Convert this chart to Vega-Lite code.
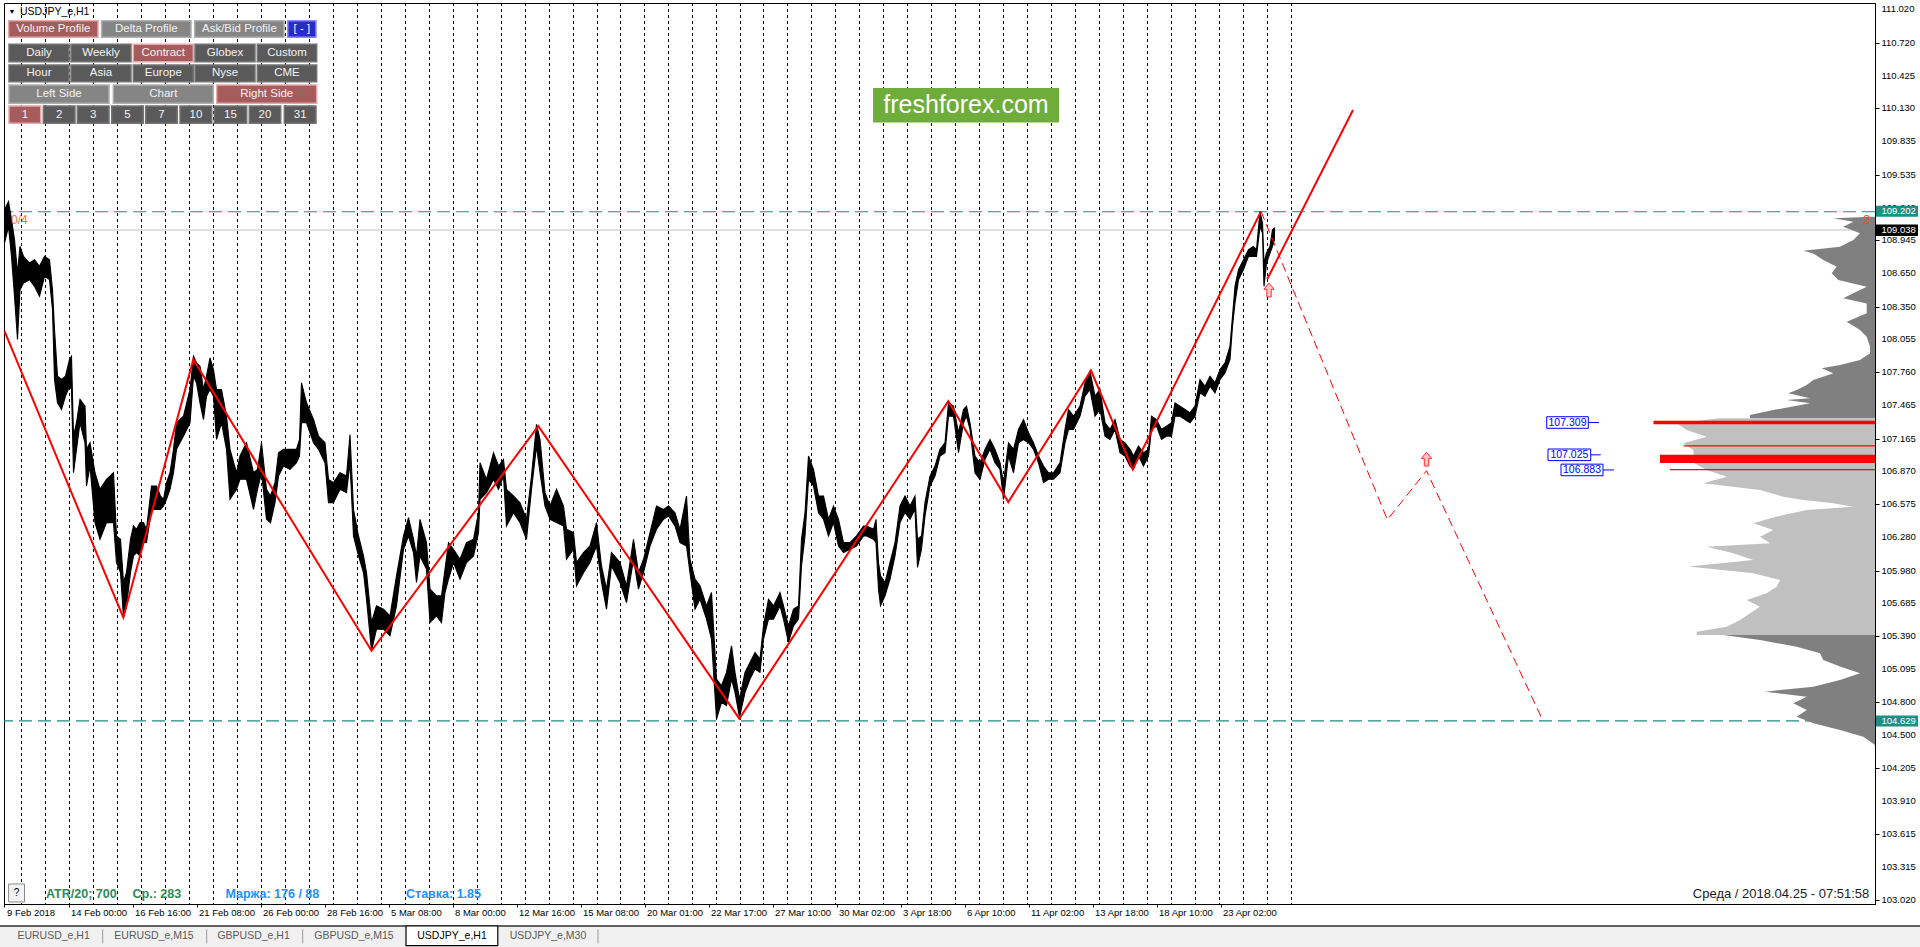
{
  "$schema": "https://vega.github.io/schema/vega-lite/v6.json",
  "width": 1871,
  "height": 901,
  "autosize": {"type": "none"},
  "padding": {"left": 4, "top": 3, "right": 45, "bottom": 43},
  "background": "#ffffff",
  "config": {
    "view": {"stroke": "#000000", "strokeWidth": 1},
    "font": "Liberation Sans",
    "axis": {"labelOverlap": false, "labelFlush": false, "labelBound": false}
  },
  "resolve": {"scale": {"color": "independent", "fill": "independent", "stroke": "independent"}},
  "datasets": {
    "sep": [
      {"i": 17}, {"i": 41}, {"i": 65}, {"i": 89}, {"i": 113}, {"i": 137}, {"i": 161}, {"i": 185}, {"i": 209}, {"i": 233},
      {"i": 257}, {"i": 281}, {"i": 305}, {"i": 329}, {"i": 353}, {"i": 377}, {"i": 401}, {"i": 425}, {"i": 449}, {"i": 473},
      {"i": 497}, {"i": 521}, {"i": 545}, {"i": 569}, {"i": 593}, {"i": 616}, {"i": 640}, {"i": 664}, {"i": 688}, {"i": 712},
      {"i": 736}, {"i": 759}, {"i": 783}, {"i": 807}, {"i": 831}, {"i": 855}, {"i": 879}, {"i": 903}, {"i": 927}, {"i": 951},
      {"i": 975}, {"i": 999}, {"i": 1023}, {"i": 1047}, {"i": 1071}, {"i": 1095}, {"i": 1119}, {"i": 1143}, {"i": 1167}, {"i": 1191},
      {"i": 1215}, {"i": 1239}, {"i": 1263}, {"i": 1287}
    ],
    "ylab": [
      {"p": 111.02}, {"p": 110.72}, {"p": 110.425}, {"p": 110.13}, {"p": 109.835}, {"p": 109.535}, {"p": 109.24},
      {"p": 108.945}, {"p": 108.65}, {"p": 108.35}, {"p": 108.055}, {"p": 107.76}, {"p": 107.465}, {"p": 107.165},
      {"p": 106.87}, {"p": 106.575}, {"p": 106.28}, {"p": 105.98}, {"p": 105.685}, {"p": 105.39}, {"p": 105.095},
      {"p": 104.8}, {"p": 104.5}, {"p": 104.205}, {"p": 103.91}, {"p": 103.615}, {"p": 103.315}, {"p": 103.02}
    ],
    "px": [
      {"i": 0, "h": 109.220, "l": 108.921}, {"i": 4, "h": 109.294, "l": 109.070}, {"i": 7, "h": 109.130, "l": 108.801},
      {"i": 10, "h": 108.951, "l": 108.443}, {"i": 13, "h": 108.652, "l": 108.054}, {"i": 15.5, "h": 108.891, "l": 108.502},
      {"i": 19, "h": 108.801, "l": 108.562}, {"i": 25, "h": 108.741, "l": 108.592}, {"i": 30, "h": 108.771, "l": 108.532},
      {"i": 35, "h": 108.712, "l": 108.443}, {"i": 40, "h": 108.801, "l": 108.622}, {"i": 45, "h": 108.771, "l": 108.592},
      {"i": 48, "h": 108.502, "l": 108.323}, {"i": 50, "h": 108.144, "l": 107.695}, {"i": 53, "h": 107.725, "l": 107.486},
      {"i": 57, "h": 107.695, "l": 107.426}, {"i": 61, "h": 107.725, "l": 107.546}, {"i": 65, "h": 107.875, "l": 107.635},
      {"i": 67, "h": 107.904, "l": 107.606}, {"i": 69, "h": 107.187, "l": 106.858}, {"i": 72, "h": 107.307, "l": 107.068},
      {"i": 75.5, "h": 107.516, "l": 107.307}, {"i": 80.5, "h": 107.456, "l": 107.127}, {"i": 82, "h": 107.068, "l": 106.739},
      {"i": 85.5, "h": 107.127, "l": 106.918}, {"i": 90.5, "h": 106.858, "l": 106.410}, {"i": 95.5, "h": 106.709, "l": 106.261},
      {"i": 102, "h": 106.798, "l": 106.410}, {"i": 109, "h": 106.858, "l": 106.410}, {"i": 112, "h": 106.290, "l": 106.051},
      {"i": 116, "h": 106.261, "l": 105.962}, {"i": 119, "h": 105.872, "l": 105.558}, {"i": 122, "h": 105.962, "l": 105.663},
      {"i": 126, "h": 106.261, "l": 105.962}, {"i": 129, "h": 106.380, "l": 106.111}, {"i": 132, "h": 106.350, "l": 106.141},
      {"i": 135.5, "h": 106.410, "l": 106.111}, {"i": 139, "h": 106.410, "l": 106.231}, {"i": 142, "h": 106.350, "l": 106.231},
      {"i": 147, "h": 106.739, "l": 106.529}, {"i": 152, "h": 106.739, "l": 106.529}, {"i": 156, "h": 106.649, "l": 106.529},
      {"i": 159, "h": 106.619, "l": 106.559}, {"i": 162, "h": 106.769, "l": 106.619}, {"i": 165.5, "h": 106.858, "l": 106.709},
      {"i": 169, "h": 107.068, "l": 106.858}, {"i": 172, "h": 107.307, "l": 107.068}, {"i": 179, "h": 107.366, "l": 107.187},
      {"i": 185.5, "h": 107.606, "l": 107.307}, {"i": 189, "h": 107.904, "l": 107.725}, {"i": 192, "h": 107.845, "l": 107.665},
      {"i": 195.5, "h": 107.815, "l": 107.486}, {"i": 199, "h": 107.606, "l": 107.336}, {"i": 202, "h": 107.725, "l": 107.546},
      {"i": 205.5, "h": 107.889, "l": 107.606}, {"i": 209, "h": 107.785, "l": 107.546}, {"i": 212, "h": 107.606, "l": 107.157},
      {"i": 217, "h": 107.606, "l": 107.307}, {"i": 222, "h": 107.366, "l": 107.068}, {"i": 225.5, "h": 107.068, "l": 106.619},
      {"i": 232, "h": 106.858, "l": 106.709}, {"i": 235.5, "h": 107.008, "l": 106.799}, {"i": 242, "h": 107.127, "l": 106.799},
      {"i": 249, "h": 106.858, "l": 106.529}, {"i": 253, "h": 106.888, "l": 106.709}, {"i": 257, "h": 107.127, "l": 106.858},
      {"i": 262, "h": 106.709, "l": 106.440}, {"i": 266, "h": 106.649, "l": 106.410}, {"i": 270.5, "h": 106.769, "l": 106.589},
      {"i": 274, "h": 107.038, "l": 106.828}, {"i": 279, "h": 107.068, "l": 106.918}, {"i": 285.5, "h": 107.068, "l": 106.888},
      {"i": 292, "h": 107.068, "l": 106.948}, {"i": 295, "h": 107.157, "l": 107.008}, {"i": 297, "h": 107.665, "l": 107.307},
      {"i": 302, "h": 107.486, "l": 107.307}, {"i": 309, "h": 107.336, "l": 107.127}, {"i": 314, "h": 107.187, "l": 107.068},
      {"i": 320.5, "h": 107.127, "l": 106.948}, {"i": 324, "h": 106.798, "l": 106.589}, {"i": 329, "h": 106.769, "l": 106.589},
      {"i": 335.5, "h": 106.858, "l": 106.709}, {"i": 342, "h": 106.828, "l": 106.679}, {"i": 345.5, "h": 107.202, "l": 106.948},
      {"i": 349, "h": 106.529, "l": 106.290}, {"i": 354, "h": 106.290, "l": 106.111}, {"i": 359, "h": 106.111, "l": 105.962},
      {"i": 362, "h": 105.962, "l": 105.723}, {"i": 367, "h": 105.513, "l": 105.259}, {"i": 372, "h": 105.663, "l": 105.453},
      {"i": 379, "h": 105.633, "l": 105.453}, {"i": 385.5, "h": 105.573, "l": 105.394}, {"i": 392, "h": 105.932, "l": 105.663},
      {"i": 399, "h": 106.290, "l": 106.171}, {"i": 404, "h": 106.455, "l": 106.290}, {"i": 409, "h": 106.261, "l": 106.141},
      {"i": 412, "h": 106.111, "l": 105.872}, {"i": 415.5, "h": 106.440, "l": 106.111}, {"i": 422, "h": 106.231, "l": 105.992},
      {"i": 425.5, "h": 105.812, "l": 105.513}, {"i": 432, "h": 105.752, "l": 105.573}, {"i": 437, "h": 105.752, "l": 105.513},
      {"i": 440.5, "h": 105.991, "l": 105.782}, {"i": 444, "h": 106.230, "l": 105.902}, {"i": 449, "h": 106.171, "l": 106.051},
      {"i": 455.5, "h": 106.081, "l": 105.902}, {"i": 462, "h": 106.230, "l": 106.051}, {"i": 469, "h": 106.260, "l": 106.111},
      {"i": 474, "h": 106.499, "l": 106.320}, {"i": 475.5, "h": 106.948, "l": 106.619}, {"i": 482, "h": 106.798, "l": 106.679},
      {"i": 489, "h": 107.037, "l": 106.798}, {"i": 494, "h": 106.918, "l": 106.709}, {"i": 499, "h": 106.978, "l": 106.828},
      {"i": 502, "h": 106.709, "l": 106.380}, {"i": 509, "h": 106.649, "l": 106.499}, {"i": 515.5, "h": 106.589, "l": 106.410},
      {"i": 522, "h": 106.440, "l": 106.260}, {"i": 527, "h": 106.828, "l": 106.709}, {"i": 532, "h": 107.292, "l": 107.097},
      {"i": 535.5, "h": 107.157, "l": 106.858}, {"i": 540.5, "h": 106.679, "l": 106.559}, {"i": 545.5, "h": 106.559, "l": 106.440},
      {"i": 552, "h": 106.709, "l": 106.410}, {"i": 559, "h": 106.559, "l": 106.380}, {"i": 562, "h": 106.350, "l": 106.081},
      {"i": 569, "h": 106.320, "l": 106.171}, {"i": 572, "h": 106.051, "l": 105.842}, {"i": 579, "h": 106.141, "l": 105.961},
      {"i": 585.5, "h": 106.200, "l": 106.051}, {"i": 592, "h": 106.410, "l": 106.200}, {"i": 597, "h": 106.021, "l": 105.872},
      {"i": 602, "h": 105.812, "l": 105.633}, {"i": 607, "h": 106.141, "l": 106.021}, {"i": 615.5, "h": 106.051, "l": 105.872},
      {"i": 622, "h": 105.842, "l": 105.692}, {"i": 629, "h": 106.260, "l": 106.081}, {"i": 634, "h": 105.961, "l": 105.812},
      {"i": 639, "h": 106.081, "l": 105.961}, {"i": 645.5, "h": 106.320, "l": 106.200}, {"i": 652, "h": 106.559, "l": 106.350},
      {"i": 659, "h": 106.529, "l": 106.440}, {"i": 664, "h": 106.559, "l": 106.470}, {"i": 670.5, "h": 106.499, "l": 106.380},
      {"i": 675.5, "h": 106.350, "l": 106.230}, {"i": 682, "h": 106.649, "l": 106.200}, {"i": 685.5, "h": 106.081, "l": 105.961},
      {"i": 690.5, "h": 105.902, "l": 105.633}, {"i": 695.5, "h": 105.842, "l": 105.722}, {"i": 702, "h": 105.662, "l": 105.543},
      {"i": 707, "h": 105.782, "l": 105.364}, {"i": 712, "h": 105.005, "l": 104.646}, {"i": 717, "h": 104.945, "l": 104.796},
      {"i": 722, "h": 105.065, "l": 104.766}, {"i": 727, "h": 105.304, "l": 105.005}, {"i": 730.5, "h": 105.065, "l": 104.885},
      {"i": 735, "h": 104.826, "l": 104.661}, {"i": 740.5, "h": 105.065, "l": 104.885}, {"i": 745.5, "h": 105.154, "l": 105.005},
      {"i": 750.5, "h": 105.244, "l": 105.095}, {"i": 755.5, "h": 105.184, "l": 105.065}, {"i": 759, "h": 105.483, "l": 105.364},
      {"i": 764, "h": 105.722, "l": 105.543}, {"i": 769, "h": 105.662, "l": 105.543}, {"i": 775.5, "h": 105.782, "l": 105.662},
      {"i": 779, "h": 105.662, "l": 105.543}, {"i": 784, "h": 105.483, "l": 105.334}, {"i": 789, "h": 105.633, "l": 105.483},
      {"i": 794, "h": 105.662, "l": 105.543}, {"i": 797, "h": 106.260, "l": 106.021}, {"i": 800.5, "h": 106.499, "l": 106.290},
      {"i": 804, "h": 107.008, "l": 106.798}, {"i": 809, "h": 106.888, "l": 106.739}, {"i": 814, "h": 106.649, "l": 106.499},
      {"i": 819, "h": 106.649, "l": 106.440}, {"i": 824, "h": 106.440, "l": 106.290}, {"i": 829, "h": 106.559, "l": 106.410},
      {"i": 834, "h": 106.440, "l": 106.200}, {"i": 839, "h": 106.230, "l": 106.141}, {"i": 845.5, "h": 106.230, "l": 106.171},
      {"i": 852, "h": 106.290, "l": 106.200}, {"i": 859, "h": 106.380, "l": 106.290}, {"i": 862, "h": 106.380, "l": 106.290},
      {"i": 869, "h": 106.350, "l": 106.261}, {"i": 871.5, "h": 106.440, "l": 106.231}, {"i": 874, "h": 106.051, "l": 105.812},
      {"i": 876, "h": 105.932, "l": 105.663}, {"i": 880.5, "h": 105.872, "l": 105.752}, {"i": 885.5, "h": 106.051, "l": 105.902},
      {"i": 890.5, "h": 106.231, "l": 106.111}, {"i": 895.5, "h": 106.559, "l": 106.410}, {"i": 900.5, "h": 106.649, "l": 106.500},
      {"i": 905.5, "h": 106.559, "l": 106.440}, {"i": 910.5, "h": 106.649, "l": 106.529}, {"i": 913, "h": 106.261, "l": 106.007},
      {"i": 917, "h": 106.290, "l": 106.171}, {"i": 920.5, "h": 106.589, "l": 106.470}, {"i": 925.5, "h": 106.828, "l": 106.739},
      {"i": 930.5, "h": 106.918, "l": 106.828}, {"i": 935.5, "h": 107.068, "l": 107.008}, {"i": 940.5, "h": 107.127, "l": 107.038},
      {"i": 944, "h": 107.486, "l": 107.366}, {"i": 949, "h": 107.456, "l": 107.366}, {"i": 954, "h": 107.217, "l": 107.038},
      {"i": 959, "h": 107.426, "l": 107.307}, {"i": 962, "h": 107.456, "l": 107.366}, {"i": 965.5, "h": 107.307, "l": 107.247},
      {"i": 970.5, "h": 107.008, "l": 106.858}, {"i": 975.5, "h": 106.948, "l": 106.798}, {"i": 980.5, "h": 107.068, "l": 106.978},
      {"i": 985.5, "h": 107.157, "l": 107.068}, {"i": 990.5, "h": 107.068, "l": 106.948}, {"i": 995.5, "h": 106.948, "l": 106.888},
      {"i": 999, "h": 106.769, "l": 106.619}, {"i": 1004, "h": 107.127, "l": 107.008}, {"i": 1009, "h": 107.068, "l": 106.858},
      {"i": 1014, "h": 107.247, "l": 107.127}, {"i": 1019, "h": 107.336, "l": 107.157}, {"i": 1024, "h": 107.217, "l": 107.127},
      {"i": 1029, "h": 107.127, "l": 107.068}, {"i": 1034, "h": 107.008, "l": 106.948}, {"i": 1039, "h": 106.918, "l": 106.769},
      {"i": 1044, "h": 106.858, "l": 106.799}, {"i": 1049, "h": 106.858, "l": 106.799}, {"i": 1055.5, "h": 106.948, "l": 106.858},
      {"i": 1060.5, "h": 107.247, "l": 107.127}, {"i": 1064, "h": 107.426, "l": 107.247}, {"i": 1069, "h": 107.366, "l": 107.247},
      {"i": 1075.5, "h": 107.456, "l": 107.366}, {"i": 1080.5, "h": 107.665, "l": 107.546}, {"i": 1085.5, "h": 107.770, "l": 107.606},
      {"i": 1090.5, "h": 107.546, "l": 107.366}, {"i": 1095.5, "h": 107.606, "l": 107.426}, {"i": 1100.5, "h": 107.307, "l": 107.187},
      {"i": 1105.5, "h": 107.247, "l": 107.157}, {"i": 1110.5, "h": 107.336, "l": 107.247}, {"i": 1115.5, "h": 107.157, "l": 107.038},
      {"i": 1120.5, "h": 107.127, "l": 107.008}, {"i": 1125.5, "h": 107.068, "l": 106.918}, {"i": 1129, "h": 107.008, "l": 106.888},
      {"i": 1134, "h": 107.097, "l": 107.008}, {"i": 1139, "h": 107.038, "l": 106.918}, {"i": 1144, "h": 107.068, "l": 107.008},
      {"i": 1147, "h": 107.366, "l": 107.247}, {"i": 1152, "h": 107.336, "l": 107.277}, {"i": 1157, "h": 107.247, "l": 107.157},
      {"i": 1162, "h": 107.277, "l": 107.187}, {"i": 1167, "h": 107.307, "l": 107.187}, {"i": 1170.5, "h": 107.486, "l": 107.366},
      {"i": 1175.5, "h": 107.456, "l": 107.366}, {"i": 1180.5, "h": 107.426, "l": 107.336}, {"i": 1185.5, "h": 107.396, "l": 107.307},
      {"i": 1190.5, "h": 107.456, "l": 107.366}, {"i": 1195.5, "h": 107.695, "l": 107.576}, {"i": 1200.5, "h": 107.635, "l": 107.546},
      {"i": 1205.5, "h": 107.725, "l": 107.635}, {"i": 1210.5, "h": 107.665, "l": 107.576}, {"i": 1215.5, "h": 107.785, "l": 107.695},
      {"i": 1220.5, "h": 107.845, "l": 107.755}, {"i": 1225.5, "h": 107.994, "l": 107.875}, {"i": 1228, "h": 108.263, "l": 108.174},
      {"i": 1230.5, "h": 108.532, "l": 108.383}, {"i": 1234, "h": 108.682, "l": 108.592}, {"i": 1239, "h": 108.771, "l": 108.682},
      {"i": 1244, "h": 108.861, "l": 108.801}, {"i": 1249, "h": 108.891, "l": 108.801}, {"i": 1252, "h": 108.861, "l": 108.801},
      {"i": 1255.5, "h": 109.205, "l": 109.070}, {"i": 1258, "h": 109.100, "l": 109.010}, {"i": 1259.5, "h": 108.741, "l": 108.532},
      {"i": 1262, "h": 108.831, "l": 108.741}, {"i": 1265.5, "h": 108.891, "l": 108.831}, {"i": 1268, "h": 109.040, "l": 108.891},
      {"i": 1270, "h": 109.055, "l": 108.951}
    ],
    "zz": [
      {"i": 0, "p": 108.129}, {"i": 118.8, "p": 105.558}, {"i": 188.8, "p": 107.875}, {"i": 367, "p": 105.259},
      {"i": 533.8, "p": 107.277}, {"i": 734.8, "p": 104.65}, {"i": 943.8, "p": 107.501}, {"i": 1003.8, "p": 106.595},
      {"i": 1086.5, "p": 107.776}, {"i": 1128.2, "p": 106.888}, {"i": 1256.5, "p": 109.205}
    ],
    "vp": [
      {"p": 109.158, "xl": 1867.2, "z": "d1"}, {"p": 109.143, "xl": 1828.8, "z": "d1"}, {"p": 109.113, "xl": 1848.8, "z": "d1"},
      {"p": 109.068, "xl": 1838.8, "z": "d1"}, {"p": 109.008, "xl": 1855.5, "z": "d1"}, {"p": 108.948, "xl": 1848.8, "z": "d1"},
      {"p": 108.888, "xl": 1835.5, "z": "d1"}, {"p": 108.852, "xl": 1798.8, "z": "d1"}, {"p": 108.828, "xl": 1808.8, "z": "d1"},
      {"p": 108.769, "xl": 1818.8, "z": "d1"}, {"p": 108.709, "xl": 1832.2, "z": "d1"}, {"p": 108.649, "xl": 1827.2, "z": "d1"},
      {"p": 108.589, "xl": 1833.8, "z": "d1"}, {"p": 108.529, "xl": 1862.2, "z": "d1"}, {"p": 108.469, "xl": 1848.8, "z": "d1"},
      {"p": 108.424, "xl": 1838.8, "z": "d1"}, {"p": 108.379, "xl": 1862.2, "z": "d1"}, {"p": 108.290, "xl": 1862.2, "z": "d1"},
      {"p": 108.215, "xl": 1842.2, "z": "d1"}, {"p": 108.140, "xl": 1855.5, "z": "d1"}, {"p": 108.080, "xl": 1862.2, "z": "d1"},
      {"p": 107.990, "xl": 1865.5, "z": "d1"}, {"p": 107.930, "xl": 1865.5, "z": "d1"}, {"p": 107.870, "xl": 1855.5, "z": "d1"},
      {"p": 107.826, "xl": 1835.5, "z": "d1"}, {"p": 107.796, "xl": 1817.2, "z": "d1"}, {"p": 107.751, "xl": 1828.8, "z": "d1"},
      {"p": 107.691, "xl": 1808.8, "z": "d1"}, {"p": 107.646, "xl": 1802.2, "z": "d1"}, {"p": 107.601, "xl": 1792.2, "z": "d1"},
      {"p": 107.571, "xl": 1783.8, "z": "d1"}, {"p": 107.526, "xl": 1805.5, "z": "d1"}, {"p": 107.511, "xl": 1782.2, "z": "d1"},
      {"p": 107.481, "xl": 1805.5, "z": "d1"}, {"p": 107.421, "xl": 1768.8, "z": "d1"}, {"p": 107.377, "xl": 1745.5, "z": "d1"},
      {"p": 107.347, "xl": 1745.5, "z": "d1"},
      {"p": 107.347, "xl": 1715.5, "z": "l"}, {"p": 107.302, "xl": 1672.2, "z": "l"}, {"p": 107.242, "xl": 1682.2, "z": "l"},
      {"p": 107.182, "xl": 1702.2, "z": "l"}, {"p": 107.122, "xl": 1678.8, "z": "l"}, {"p": 107.062, "xl": 1688.8, "z": "l"},
      {"p": 106.943, "xl": 1690.0, "z": "l"}, {"p": 106.883, "xl": 1702.2, "z": "l"}, {"p": 106.823, "xl": 1722.2, "z": "l"},
      {"p": 106.763, "xl": 1698.8, "z": "l"}, {"p": 106.703, "xl": 1755.5, "z": "l"}, {"p": 106.643, "xl": 1778.8, "z": "l"},
      {"p": 106.613, "xl": 1798.8, "z": "l"}, {"p": 106.583, "xl": 1828.8, "z": "l"}, {"p": 106.553, "xl": 1848.8, "z": "l"},
      {"p": 106.523, "xl": 1802.2, "z": "l"}, {"p": 106.464, "xl": 1772.2, "z": "l"}, {"p": 106.404, "xl": 1748.8, "z": "l"},
      {"p": 106.344, "xl": 1768.8, "z": "l"}, {"p": 106.284, "xl": 1755.5, "z": "l"}, {"p": 106.224, "xl": 1765.5, "z": "l"},
      {"p": 106.194, "xl": 1702.2, "z": "l"}, {"p": 106.134, "xl": 1728.8, "z": "l"}, {"p": 106.074, "xl": 1748.8, "z": "l"},
      {"p": 106.015, "xl": 1683.8, "z": "l"}, {"p": 105.955, "xl": 1748.8, "z": "l"}, {"p": 105.895, "xl": 1775.5, "z": "l"},
      {"p": 105.835, "xl": 1772.2, "z": "l"}, {"p": 105.775, "xl": 1762.2, "z": "l"}, {"p": 105.715, "xl": 1742.2, "z": "l"},
      {"p": 105.655, "xl": 1755.5, "z": "l"}, {"p": 105.596, "xl": 1745.5, "z": "l"}, {"p": 105.536, "xl": 1735.5, "z": "l"},
      {"p": 105.476, "xl": 1722.2, "z": "l"}, {"p": 105.431, "xl": 1692.2, "z": "l"}, {"p": 105.401, "xl": 1692.2, "z": "l"},
      {"p": 105.401, "xl": 1718.8, "z": "d2"}, {"p": 105.356, "xl": 1755.5, "z": "d2"}, {"p": 105.296, "xl": 1792.2, "z": "d2"},
      {"p": 105.236, "xl": 1815.5, "z": "d2"}, {"p": 105.176, "xl": 1818.8, "z": "d2"}, {"p": 105.117, "xl": 1835.5, "z": "d2"},
      {"p": 105.057, "xl": 1855.5, "z": "d2"}, {"p": 104.997, "xl": 1835.5, "z": "d2"}, {"p": 104.937, "xl": 1808.8, "z": "d2"},
      {"p": 104.892, "xl": 1760.5, "z": "d2"}, {"p": 104.847, "xl": 1802.2, "z": "d2"}, {"p": 104.787, "xl": 1788.8, "z": "d2"},
      {"p": 104.727, "xl": 1802.2, "z": "d2"}, {"p": 104.667, "xl": 1792.2, "z": "d2"}, {"p": 104.608, "xl": 1808.8, "z": "d2"},
      {"p": 104.548, "xl": 1835.5, "z": "d2"}, {"p": 104.488, "xl": 1858.8, "z": "d2"}, {"p": 104.413, "xl": 1870.5, "z": "d2"}
    ],
    "btn": [
      {"t": "Volume Profile", "x0": 4.1, "x1": 93.5, "xm": 48.8, "pt": 110.918, "pb": 110.769, "pm": 110.843, "s": "a"},
      {"t": "Delta Profile", "x0": 97.1, "x1": 186.5, "xm": 141.8, "pt": 110.918, "pb": 110.769, "pm": 110.843, "s": "g"},
      {"t": "Ask/Bid Profile", "x0": 190.2, "x1": 279.5, "xm": 234.9, "pt": 110.918, "pb": 110.769, "pm": 110.843, "s": "g"},
      {"t": "[ - ]", "x0": 283.3, "x1": 311.5, "xm": 297.4, "pt": 110.918, "pb": 110.769, "pm": 110.843, "s": "b"},
      {"t": "Daily", "x0": 4.5, "x1": 64.5, "xm": 34.5, "pt": 110.706, "pb": 110.549, "pm": 110.627, "s": "d"},
      {"t": "Weekly", "x0": 66.5, "x1": 126.5, "xm": 96.5, "pt": 110.706, "pb": 110.549, "pm": 110.627, "s": "d"},
      {"t": "Contract", "x0": 128.8, "x1": 188.8, "xm": 158.8, "pt": 110.706, "pb": 110.549, "pm": 110.627, "s": "a"},
      {"t": "Globex", "x0": 190.5, "x1": 250.5, "xm": 220.5, "pt": 110.706, "pb": 110.549, "pm": 110.627, "s": "d"},
      {"t": "Custom", "x0": 252.8, "x1": 312.2, "xm": 282.5, "pt": 110.706, "pb": 110.549, "pm": 110.627, "s": "d"},
      {"t": "Hour", "x0": 4.5, "x1": 64.5, "xm": 34.5, "pt": 110.520, "pb": 110.370, "pm": 110.445, "s": "d"},
      {"t": "Asia", "x0": 66.5, "x1": 126.5, "xm": 96.5, "pt": 110.520, "pb": 110.370, "pm": 110.445, "s": "d"},
      {"t": "Europe", "x0": 128.8, "x1": 188.8, "xm": 158.8, "pt": 110.520, "pb": 110.370, "pm": 110.445, "s": "d"},
      {"t": "Nyse", "x0": 190.5, "x1": 250.5, "xm": 220.5, "pt": 110.520, "pb": 110.370, "pm": 110.445, "s": "d"},
      {"t": "CME", "x0": 252.8, "x1": 312.2, "xm": 282.5, "pt": 110.520, "pb": 110.370, "pm": 110.445, "s": "d"},
      {"t": "Left Side", "x0": 4.5, "x1": 104.5, "xm": 54.5, "pt": 110.340, "pb": 110.176, "pm": 110.258, "s": "g"},
      {"t": "Chart", "x0": 108.8, "x1": 208.8, "xm": 158.8, "pt": 110.340, "pb": 110.176, "pm": 110.258, "s": "g"},
      {"t": "Right Side", "x0": 212.2, "x1": 312.2, "xm": 262.2, "pt": 110.340, "pb": 110.176, "pm": 110.258, "s": "a"},
      {"t": "1", "x0": 4.5, "x1": 36.2, "xm": 20.4, "pt": 110.152, "pb": 109.996, "pm": 110.074, "s": "a"},
      {"t": "2", "x0": 38.8, "x1": 70.5, "xm": 54.7, "pt": 110.152, "pb": 109.996, "pm": 110.074, "s": "d"},
      {"t": "3", "x0": 72.8, "x1": 104.5, "xm": 88.7, "pt": 110.152, "pb": 109.996, "pm": 110.074, "s": "d"},
      {"t": "5", "x0": 107.2, "x1": 138.8, "xm": 123.0, "pt": 110.152, "pb": 109.996, "pm": 110.074, "s": "d"},
      {"t": "7", "x0": 141.2, "x1": 172.8, "xm": 157.0, "pt": 110.152, "pb": 109.996, "pm": 110.074, "s": "d"},
      {"t": "10", "x0": 175.5, "x1": 207.2, "xm": 191.4, "pt": 110.152, "pb": 109.996, "pm": 110.074, "s": "d"},
      {"t": "15", "x0": 209.8, "x1": 242.2, "xm": 226.0, "pt": 110.152, "pb": 109.996, "pm": 110.074, "s": "d"},
      {"t": "20", "x0": 244.8, "x1": 276.2, "xm": 260.5, "pt": 110.152, "pb": 109.996, "pm": 110.074, "s": "d"},
      {"t": "31", "x0": 279.8, "x1": 311.5, "xm": 295.7, "pt": 110.152, "pb": 109.996, "pm": 110.074, "s": "d"}
    ],
    "tabs": [
      {"t": "EURUSD_e,H1", "i": 49.1, "k": "n"}, {"t": "EURUSD_e,M15", "i": 149.5, "k": "n"},
      {"t": "GBPUSD_e,H1", "i": 249.1, "k": "n"}, {"t": "GBPUSD_e,M15", "i": 349.5, "k": "n"},
      {"t": "USDJPY_e,H1", "i": 447.5, "k": "a"}, {"t": "USDJPY_e,M30", "i": 543.5, "k": "n"}
    ]
  },
  "layer": [
    {
      "data": {"name": "sep"},
      "mark": {"type": "rule", "color": "#000000", "strokeDash": [3, 3], "strokeWidth": 1},
      "encoding": {
        "x": {
          "field": "i", "type": "quantitative",
          "scale": {"domain": [-0.5, 1870.5], "nice": false, "zero": false},
          "axis": {
            "title": null, "grid": false,
            "values": [0, 64, 128, 192, 256, 320, 384, 448, 512, 576, 640, 704, 768, 832, 896, 960, 1024, 1088, 1152, 1216],
            "labelExpr": "['9 Feb 2018','14 Feb 00:00','16 Feb 16:00','21 Feb 08:00','26 Feb 00:00','28 Feb 16:00','5 Mar 08:00','8 Mar 00:00','12 Mar 16:00','15 Mar 08:00','20 Mar 01:00','22 Mar 17:00','27 Mar 10:00','30 Mar 02:00','3 Apr 18:00','6 Apr 10:00','11 Apr 02:00','13 Apr 18:00','18 Apr 10:00','23 Apr 02:00'][round(datum.value / 64)]",
            "domainColor": "#000000", "tickColor": "#000000", "tickSize": 3,
            "labelAlign": "left", "labelBaseline": "top", "labelPadding": 0, "labelOffset": 2,
            "labelFont": "Liberation Sans", "labelFontSize": 9.5, "labelColor": "#000000",
            "labelOverlap": false, "labelFlush": false, "labelBound": false
          }
        }
      }
    },
    {
      "data": {"values": [{"p": 109.202}, {"p": 104.629}]},
      "mark": {"type": "rule", "color": "#1f8a80", "strokeDash": [13, 6], "strokeWidth": 1.2},
      "encoding": {"y": {"field": "p", "type": "quantitative"}}
    },
    {
      "data": {"values": [{"p": 109.038}]},
      "mark": {"type": "rule", "color": "#c0c0c0", "strokeWidth": 1},
      "encoding": {"y": {"field": "p", "type": "quantitative"}}
    },
    {
      "data": {"name": "vp"},
      "mark": {"type": "area", "orient": "horizontal", "interpolate": "linear"},
      "encoding": {
        "y": {"field": "p", "type": "quantitative"},
        "x": {"field": "xl", "type": "quantitative", "stack": null},
        "x2": {"datum": 1870.5},
        "color": {"field": "z", "type": "nominal", "scale": {"domain": ["d1", "l", "d2"], "range": ["#808080", "#c0c0c0", "#808080"]}, "legend": null}
      }
    },
    {
      "data": {"values": [
        {"pt": 107.325, "pb": 107.293, "xl": 1649.0},
        {"pt": 107.104, "pb": 107.094, "xl": 1679.0},
        {"pt": 107.020, "pb": 106.945, "xl": 1655.5},
        {"pt": 106.891, "pb": 106.881, "xl": 1665.5}
      ]},
      "mark": {"type": "rect", "color": "#ff0000"},
      "encoding": {
        "x": {"field": "xl", "type": "quantitative"},
        "x2": {"datum": 1870.5},
        "y": {"field": "pt", "type": "quantitative"},
        "y2": {"field": "pb"}
      }
    },
    {
      "data": {"name": "px"},
      "mark": {"type": "area", "orient": "vertical", "color": "#000000", "stroke": "#000000", "strokeWidth": 1.1},
      "encoding": {
        "x": {"field": "i", "type": "quantitative"},
        "y": {
          "field": "l", "type": "quantitative",
          "scale": {"domain": [102.985, 111.0766], "nice": false, "zero": false},
          "axis": {
            "title": null, "orient": "right", "grid": false, "labels": false,
            "values": [111.02, 110.72, 110.425, 110.13, 109.835, 109.535, 109.24, 108.945, 108.65, 108.35, 108.055, 107.76, 107.465, 107.165, 106.87, 106.575, 106.28, 105.98, 105.685, 105.39, 105.095, 104.8, 104.5, 104.205, 103.91, 103.615, 103.315, 103.02],
            "domainColor": "#000000", "tickColor": "#000000", "tickSize": 4
          }
        },
        "y2": {"field": "h"}
      }
    },
    {
      "data": {"name": "ylab"},
      "mark": {"type": "text", "color": "#000000", "font": "Liberation Sans", "fontSize": 9.5, "align": "left", "baseline": "middle"},
      "encoding": {
        "x": {"datum": 1877},
        "y": {"field": "p", "type": "quantitative"},
        "text": {"field": "p", "type": "quantitative", "format": ".3f"}
      }
    },
    {
      "data": {"name": "zz"},
      "mark": {"type": "line", "color": "#ff0000", "strokeWidth": 2},
      "encoding": {"x": {"field": "i", "type": "quantitative"}, "y": {"field": "p", "type": "quantitative"}}
    },
    {
      "data": {"values": [{"i": 1262.8, "p": 108.598}, {"i": 1348.5, "p": 110.115}]},
      "mark": {"type": "line", "color": "#ff0000", "strokeWidth": 2},
      "encoding": {"x": {"field": "i", "type": "quantitative"}, "y": {"field": "p", "type": "quantitative"}}
    },
    {
      "data": {"values": [{"i": 1256.5, "p": 109.205}, {"i": 1382.9, "p": 106.436}, {"i": 1422, "p": 106.876}, {"i": 1538.5, "p": 104.629}]},
      "mark": {"type": "line", "color": "#ff0000", "strokeWidth": 1, "strokeDash": [9, 5]},
      "encoding": {"x": {"field": "i", "type": "quantitative"}, "y": {"field": "p", "type": "quantitative"}}
    },
    {
      "data": {"values": [{"i": 1264.5, "p": 108.499}, {"i": 1422, "p": 106.98}]},
      "mark": {"type": "point", "shape": "M0,-1L0.75,-0.1L0.32,-0.1L0.32,1L-0.32,1L-0.32,-0.1L-0.75,-0.1Z", "filled": true, "fill": "#ffc4c4", "stroke": "#ff3030", "strokeWidth": 1, "size": 190, "opacity": 1},
      "encoding": {"x": {"field": "i", "type": "quantitative"}, "y": {"field": "p", "type": "quantitative"}}
    },
    {
      "data": {"values": [
        {"t": "107.309", "p": 107.309, "pt": 107.361, "pb": 107.257, "x0": 1542.2, "x1": 1583.8, "xm": 1563.0, "lx": 1594.5},
        {"t": "107.025", "p": 107.019, "pt": 107.071, "pb": 106.967, "x0": 1543.5, "x1": 1586.2, "xm": 1564.9, "lx": 1596.2},
        {"t": "106.883", "p": 106.883, "pt": 106.935, "pb": 106.831, "x0": 1556.5, "x1": 1598.5, "xm": 1577.5, "lx": 1609.5}
      ]},
      "layer": [
        {
          "mark": {"type": "rect", "fill": "#ffffff", "stroke": "#0000ff", "strokeWidth": 1},
          "encoding": {"x": {"field": "x0", "type": "quantitative"}, "x2": {"field": "x1"}, "y": {"field": "pt", "type": "quantitative"}, "y2": {"field": "pb"}}
        },
        {
          "mark": {"type": "rule", "color": "#0000ff", "strokeWidth": 1},
          "encoding": {"x": {"field": "x1", "type": "quantitative"}, "x2": {"field": "lx"}, "y": {"field": "p", "type": "quantitative"}}
        },
        {
          "mark": {"type": "text", "color": "#0000ff", "font": "Liberation Sans", "fontSize": 10.5, "align": "center", "baseline": "middle"},
          "encoding": {"x": {"field": "xm", "type": "quantitative"}, "y": {"field": "p", "type": "quantitative"}, "text": {"field": "t"}}
        }
      ]
    },
    {
      "data": {"name": "btn"},
      "layer": [
        {
          "mark": {"type": "rect", "strokeWidth": 1.5},
          "encoding": {
            "x": {"field": "x0", "type": "quantitative"}, "x2": {"field": "x1"},
            "y": {"field": "pt", "type": "quantitative"}, "y2": {"field": "pb"},
            "fill": {"field": "s", "type": "nominal", "scale": {"domain": ["a", "g", "d", "b"], "range": ["#a65c5c", "#858585", "#5a5a5a", "#2a2ac4"]}, "legend": null},
            "stroke": {"field": "s", "type": "nominal", "scale": {"domain": ["a", "g", "d", "b"], "range": ["#e4a8a8", "#b0b0b0", "#747474", "#8a8aff"]}, "legend": null}
          }
        },
        {
          "mark": {"type": "text", "color": "#f2f2f2", "font": "Liberation Sans", "fontSize": 11.5, "align": "center", "baseline": "middle"},
          "encoding": {"x": {"field": "xm", "type": "quantitative"}, "y": {"field": "pm", "type": "quantitative"}, "text": {"field": "t"}}
        }
      ]
    },
    {
      "data": {"values": [{"t": "▼", "i": 7.5, "p": 110.994}]},
      "mark": {"type": "text", "color": "#000000", "fontSize": 7, "align": "center", "baseline": "middle"},
      "encoding": {"x": {"field": "i", "type": "quantitative"}, "y": {"field": "p", "type": "quantitative"}, "text": {"field": "t"}}
    },
    {
      "data": {"values": [{"t": "USDJPY_e,H1", "i": 15.5, "p": 110.994}]},
      "mark": {"type": "text", "color": "#000000", "font": "Liberation Sans", "fontSize": 10.5, "align": "left", "baseline": "middle"},
      "encoding": {"x": {"field": "i", "type": "quantitative"}, "y": {"field": "p", "type": "quantitative"}, "text": {"field": "t"}}
    },
    {
      "data": {"values": [{"t": "freshforex.com", "x0": 868.5, "x1": 1054.5, "xm": 961.5, "pt": 110.313, "pb": 110.003, "pm": 110.158}]},
      "layer": [
        {
          "mark": {"type": "rect", "color": "#6fad3a"},
          "encoding": {"x": {"field": "x0", "type": "quantitative"}, "x2": {"field": "x1"}, "y": {"field": "pt", "type": "quantitative"}, "y2": {"field": "pb"}}
        },
        {
          "mark": {"type": "text", "color": "#ffffff", "font": "Liberation Sans", "fontSize": 25, "align": "center", "baseline": "middle"},
          "encoding": {"x": {"field": "xm", "type": "quantitative"}, "y": {"field": "pm", "type": "quantitative"}, "text": {"field": "t"}}
        }
      ]
    },
    {
      "data": {"values": [
        {"t": "109.202", "pt": 109.256, "pb": 109.158, "p": 109.207, "k": "teal"},
        {"t": "109.038", "pt": 109.087, "pb": 108.984, "p": 109.036, "k": "black"},
        {"t": "104.629", "pt": 104.678, "pb": 104.579, "p": 104.629, "k": "teal"}
      ]},
      "layer": [
        {
          "mark": {"type": "rect"},
          "encoding": {
            "x": {"datum": 1871.5}, "x2": {"datum": 1913.5},
            "y": {"field": "pt", "type": "quantitative"}, "y2": {"field": "pb"},
            "color": {"field": "k", "type": "nominal", "scale": {"domain": ["teal", "black"], "range": ["#1f8f86", "#000000"]}, "legend": null}
          }
        },
        {
          "mark": {"type": "text", "color": "#ffffff", "font": "Liberation Sans", "fontSize": 9.5, "align": "left", "baseline": "middle"},
          "encoding": {"x": {"datum": 1877}, "y": {"field": "p", "type": "quantitative"}, "text": {"field": "t"}}
        }
      ]
    },
    {
      "data": {"values": [{"t": "0/4", "i": 6.5, "p": 109.125}]},
      "mark": {"type": "text", "color": "#ff7040", "font": "Liberation Sans", "fontSize": 12, "align": "left", "baseline": "middle"},
      "encoding": {"x": {"field": "i", "type": "quantitative"}, "y": {"field": "p", "type": "quantitative"}, "text": {"field": "t"}}
    },
    {
      "data": {"values": [{"t": "2", "i": 1862.2, "p": 109.13}]},
      "mark": {"type": "text", "color": "#ff4a1a", "font": "Liberation Sans", "fontSize": 13, "align": "center", "baseline": "middle"},
      "encoding": {"x": {"field": "i", "type": "quantitative"}, "y": {"field": "p", "type": "quantitative"}, "text": {"field": "t"}}
    },
    {
      "data": {"values": [{"t": "ATR/20; 700", "i": 41.5, "p": 103.075}, {"t": "Ср.: 283", "i": 128, "p": 103.075}]},
      "mark": {"type": "text", "color": "#2e8b57", "font": "Liberation Sans", "fontWeight": "bold", "fontSize": 12.5, "align": "left", "baseline": "middle"},
      "encoding": {"x": {"field": "i", "type": "quantitative"}, "y": {"field": "p", "type": "quantitative"}, "text": {"field": "t"}}
    },
    {
      "data": {"values": [{"t": "Маржа: 176 / 88", "i": 221, "p": 103.075}, {"t": "Ставка: 1.85", "i": 401.5, "p": 103.075}]},
      "mark": {"type": "text", "color": "#1e90ff", "font": "Liberation Sans", "fontWeight": "bold", "fontSize": 12.5, "align": "left", "baseline": "middle"},
      "encoding": {"x": {"field": "i", "type": "quantitative"}, "y": {"field": "p", "type": "quantitative"}, "text": {"field": "t"}}
    },
    {
      "data": {"values": [{"t": "?", "x0": 4.1, "x1": 20.0, "xm": 12.0, "pt": 103.165, "pb": 103.003, "pm": 103.084}]},
      "layer": [
        {
          "mark": {"type": "rect", "fill": "#f4f4f4", "stroke": "#8a8a8a", "strokeWidth": 1},
          "encoding": {"x": {"field": "x0", "type": "quantitative"}, "x2": {"field": "x1"}, "y": {"field": "pt", "type": "quantitative"}, "y2": {"field": "pb"}}
        },
        {
          "mark": {"type": "text", "color": "#000000", "font": "Liberation Sans", "fontSize": 10, "align": "center", "baseline": "middle"},
          "encoding": {"x": {"field": "xm", "type": "quantitative"}, "y": {"field": "pm", "type": "quantitative"}, "text": {"field": "t"}}
        }
      ]
    },
    {
      "data": {"values": [{"t": "Среда / 2018.04.25 - 07:51:58", "i": 1864.8, "p": 103.075}]},
      "mark": {"type": "text", "color": "#1a1a1a", "font": "Liberation Sans", "fontSize": 13, "align": "right", "baseline": "middle"},
      "encoding": {"x": {"field": "i", "type": "quantitative"}, "y": {"field": "p", "type": "quantitative"}, "text": {"field": "t"}}
    },
    {
      "data": {"values": [{"x0": -4.5, "x1": 1915.5, "pt": 102.7875, "pb": 102.55}]},
      "layer": [
        {
          "mark": {"type": "rect", "color": "#f0f0f0"},
          "encoding": {"x": {"field": "x0", "type": "quantitative"}, "x2": {"field": "x1"}, "y": {"field": "pt", "type": "quantitative"}, "y2": {"field": "pb"}}
        },
        {
          "mark": {"type": "rule", "color": "#303030", "strokeWidth": 1.5},
          "encoding": {"x": {"field": "x0", "type": "quantitative"}, "x2": {"field": "x1"}, "y": {"field": "pt", "type": "quantitative"}}
        }
      ]
    },
    {
      "data": {"values": [{"i": 98.2}, {"i": 202.2}, {"i": 298.2}, {"i": 593.5}]},
      "mark": {"type": "rule", "color": "#9a9a9a", "strokeWidth": 1},
      "encoding": {"x": {"field": "i", "type": "quantitative"}, "y": {"datum": 102.756}, "y2": {"datum": 102.631}}
    },
    {
      "data": {"values": [{"x0": 401.5, "x1": 493.3, "pt": 102.7875, "pb": 102.612}]},
      "mark": {"type": "rect", "fill": "#ffffff", "stroke": "#000000", "strokeWidth": 1.2},
      "encoding": {"x": {"field": "x0", "type": "quantitative"}, "x2": {"field": "x1"}, "y": {"field": "pt", "type": "quantitative"}, "y2": {"field": "pb"}}
    },
    {
      "data": {"name": "tabs"},
      "mark": {"type": "text", "font": "Liberation Sans", "fontSize": 10.5, "align": "center", "baseline": "middle"},
      "encoding": {
        "x": {"field": "i", "type": "quantitative"},
        "y": {"datum": 102.702},
        "text": {"field": "t"},
        "color": {"field": "k", "type": "nominal", "scale": {"domain": ["n", "a"], "range": ["#5a5a5a", "#000000"]}, "legend": null}
      }
    }
  ]
}
